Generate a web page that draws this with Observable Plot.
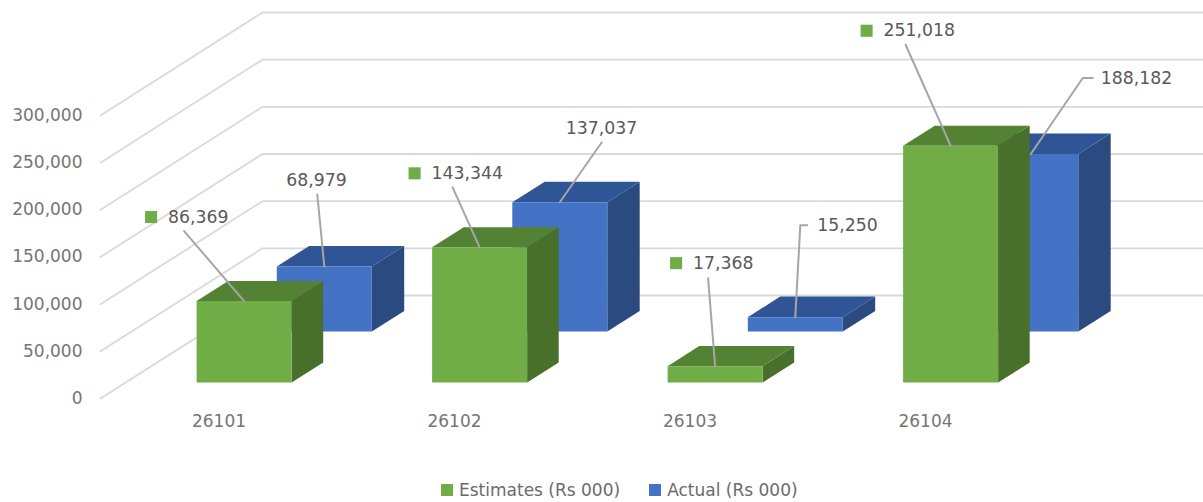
<!DOCTYPE html>
<html>
<head>
<meta charset="utf-8">
<script src="https://cdn.jsdelivr.net/npm/d3@7"></script>
<script src="https://cdn.jsdelivr.net/npm/@observablehq/plot@0.6"></script>
<style>
  html, body { margin: 0; padding: 0; background: #fff; }
  #legend { display: flex; justify-content: flex-start; align-items: center; height: 24px; padding-left: 441px;
    font: 17px "DejaVu Sans", sans-serif; color: #6b6b6b; }
  #legend span.k { width: 12px; height: 12px; display: inline-block; margin-right: 6px; }
  #legend span.t { margin-right: 29px; white-space: nowrap; }
</style>
</head>
<body>
<div id="chart"></div>
<div id="legend"></div>
<script>
// ---- data ----
const categories = ["26101", "26102", "26103", "26104"];
const estimates = [86369, 143344, 17368, 251018];
const actual = [68979, 137037, 15250, 188182];
const yTicks = [0, 50000, 100000, 150000, 200000, 250000, 300000];
const seriesNames = ["Estimates (Rs 000)", "Actual (Rs 000)"];

// ---- layout ----
const W = 1203, H = 478;
const pxPerCat = 235.5, catOrigin = 171;
const y0 = 398, y300 = 115, pxPerVal = (y0 - y300) / 300000;
const depthPxX = 162, depthPxY = 103;
const DX = depthPxX / pxPerCat, DY = depthPxY / pxPerVal;
const barW = 95 / pxPerCat;
const P = (c, v, t) => ({x: c + t * DX, y: v + t * DY});
const pxX = px => px / pxPerCat, pxY = px => -px / pxPerVal;

const styles = [
  {values: estimates, t0: 0.155, t1: 0.35, front: "#70ad47", top: "#548235", side: "#48702a"},
  {values: actual, t0: 0.65, t1: 0.85, front: "#4472c4", top: "#2f5597", side: "#2a4a80"}
];
// label placement relative to the bar's top-front-centre, in pixels: text start, leader polyline
const placement = [
  [{l: [-76, -84], p: [[-60, -70]]},
   {l: [-48, -74], p: [[-27, -60]]},
   {l: [-22, -103], p: [[-7, -88]]},
   {l: [-67, -115], p: [[-45, -101]]}],
  [{l: [-38, -86], p: [[-7, -72]]},
   {l: [6, -74], p: [[42, -60]]},
   {l: [22, -92], p: [[12, -92], [5, -92]]},
   {l: [70, -76], p: [[62, -76], [52, -76]]}]
];

function faces(s) {
  const front = [], top = [], side = [];
  s.values.forEach((v, i) => {
    const a = i, b = i + barW;
    [[a, 0, s.t0], [b, 0, s.t0], [b, v, s.t0], [a, v, s.t0]].forEach(q => front.push({...P(...q), z: i}));
    [[a, v, s.t0], [b, v, s.t0], [b, v, s.t1], [a, v, s.t1]].forEach(q => top.push({...P(...q), z: i}));
    [[b, 0, s.t0], [b, 0, s.t1], [b, v, s.t1], [b, v, s.t0]].forEach(q => side.push({...P(...q), z: i}));
  });
  return {front, top, side};
}
const faceMarks = s => {
  const f = faces(s);
  const opt = (c) => ({x: "x", y: "y", z: "z", fill: c, stroke: "none"});
  return [Plot.line(f.side, opt(s.side)), Plot.line(f.top, opt(s.top)), Plot.line(f.front, opt(s.front))];
};

// gridlines: floor-to-back-wall diagonal then along the wall
const xFront = pxX(100 - catOrigin), xEnd = pxX(W - catOrigin);
const grid = yTicks.flatMap(v => [
  {x: xFront, y: v, z: v},
  {x: xFront + DX, y: v + DY, z: v},
  {x: xEnd, y: v + DY, z: v}
]);

const leaders = [], labels = [], keys = [];
styles.forEach((s, si) => s.values.forEach((v, i) => {
  const a = P(i + barW / 2, v, s.t0);
  const pl = placement[si][i];
  const id = si + "-" + i;
  leaders.push({x: a.x, y: a.y, z: id});
  pl.p.slice().reverse().forEach(q => leaders.push({x: a.x + pxX(q[0]), y: a.y + pxY(q[1]), z: id}));
  labels.push({x: a.x + pxX(pl.l[0]), y: a.y + pxY(pl.l[1]), text: d3.format(",")(v)});
  if (si === 0) keys.push({x: a.x + pxX(pl.l[0] - 17), y: a.y + pxY(pl.l[1])});
}));

const font = "'DejaVu Sans', sans-serif";
const chart = Plot.plot({
  width: W, height: H,
  marginLeft: 82, marginTop: 0, marginRight: 0, marginBottom: H - y0,
  x: {type: "linear", domain: [0, 1], range: [catOrigin, catOrigin + pxPerCat]},
  y: {type: "linear", domain: [0, 300000], range: [y0, y300]},
  style: {fontFamily: font, fontSize: "17px", background: "#fff", overflow: "visible"},
  marks: [
    Plot.line(grid, {x: "x", y: "y", z: "z", stroke: "#d9d9d9", strokeWidth: 1.8}),
    ...faceMarks(styles[1]),
    ...faceMarks(styles[0]),
    Plot.line(leaders, {x: "x", y: "y", z: "z", stroke: "#a6a6a6", strokeWidth: 2}),
    Plot.dot(keys, {x: "x", y: "y", symbol: "square", r: 6.8, fill: "#70ad47", stroke: "none"}),
    Plot.text(labels, {x: "x", y: "y", text: "text", textAnchor: "start", fill: "#595959", fontSize: 17.3}),
    Plot.axisY({ticks: yTicks, tickSize: 0, tickPadding: 0, tickFormat: d3.format(","), label: null, color: "#757575", fontSize: 17}),
    Plot.axisX({ticks: categories.map((_, i) => i + barW / 2), tickSize: 0, tickPadding: 16,
      tickFormat: d => categories[Math.round(d - barW / 2)], label: null, color: "#757575", fontSize: 17})
  ]
});
document.getElementById("chart").appendChild(chart);

const legend = document.getElementById("legend");
seriesNames.forEach((n, i) => {
  const k = document.createElement("span"); k.className = "k"; k.style.background = styles[i].front;
  const t = document.createElement("span"); t.className = "t"; t.textContent = n;
  legend.append(k, t);
});
</script>
</body>
</html>
